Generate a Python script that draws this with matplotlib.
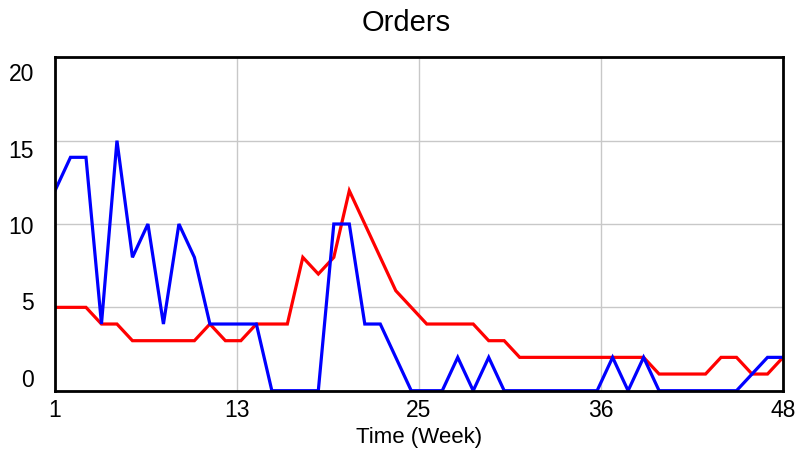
import numpy as np
import matplotlib
matplotlib.use("Agg")
import matplotlib.pyplot as plt
from matplotlib.transforms import blended_transform_factory

weeks = list(range(1, 49))
series_red = [5, 5, 5, 4, 4, 3, 3, 3, 3, 3, 4, 3, 3, 4, 4, 4, 8, 7, 8, 12,
              10, 8, 6, 5, 4, 4, 4, 4, 3, 3, 2, 2, 2, 2, 2, 2, 2, 2, 2, 1,
              1, 1, 1, 2, 2, 1, 1, 2]
series_blue = [12, 14, 14, 4, 15, 8, 10, 4, 10, 8, 4, 4, 4, 4, 0, 0, 0, 0, 10, 10,
               4, 4, 2, 0, 0, 0, 2, 0, 2, 0, 0, 0, 0, 0, 0, 0, 2, 0, 2, 0,
               0, 0, 0, 0, 0, 1, 2, 2]
x_tick_labels = ["1", "13", "25", "36", "48"]
y_tick_labels = ["0", "5", "10", "15", "20"]

plt.rcParams['font.family'] = ['Liberation Sans', 'DejaVu Sans']

fig = plt.figure(figsize=(7.99, 4.52), dpi=100)
ax = fig.add_axes([55/799, 1-391.7/452, 728/799, 333.4/452])

ax.plot(weeks, series_red, color='#ff0000', lw=2.3, solid_joinstyle='miter', zorder=3)
ax.plot(weeks, series_blue, color='#0000ff', lw=2.3, solid_joinstyle='miter', zorder=4)

ax.set_xlim(1, 48)
ax.set_ylim(0, 20)

xt = np.linspace(1, 48, 5)
ax.set_xticks(xt)
ax.set_xticklabels(x_tick_labels, fontsize=16.5)
ax.tick_params(axis='x', length=0, pad=5)

yt = np.linspace(0, 20, 5)
ax.set_yticks(yt)
ax.set_yticklabels([])
ax.tick_params(axis='y', length=0)
trans = blended_transform_factory(ax.transAxes, ax.transData)
ylab_pos = np.linspace(0.7, 19.0, 5)
for yp, lab in zip(ylab_pos, y_tick_labels):
    ax.text(-0.029, yp, lab, transform=trans, ha='right', va='center', fontsize=16.5)

ax.grid(True, color='#c8c8c8', lw=1)
ax.set_axisbelow(True)
for s in ax.spines.values():
    s.set_linewidth(2.0)
    s.set_color('black')
    s.set_zorder(5)

ax.set_xlabel("Time (Week)", fontsize=16, labelpad=4)
fig.text(406/799, 1-23/452, "Orders", ha='center', va='center', fontsize=21)

fig.savefig("out.png", dpi=100)
